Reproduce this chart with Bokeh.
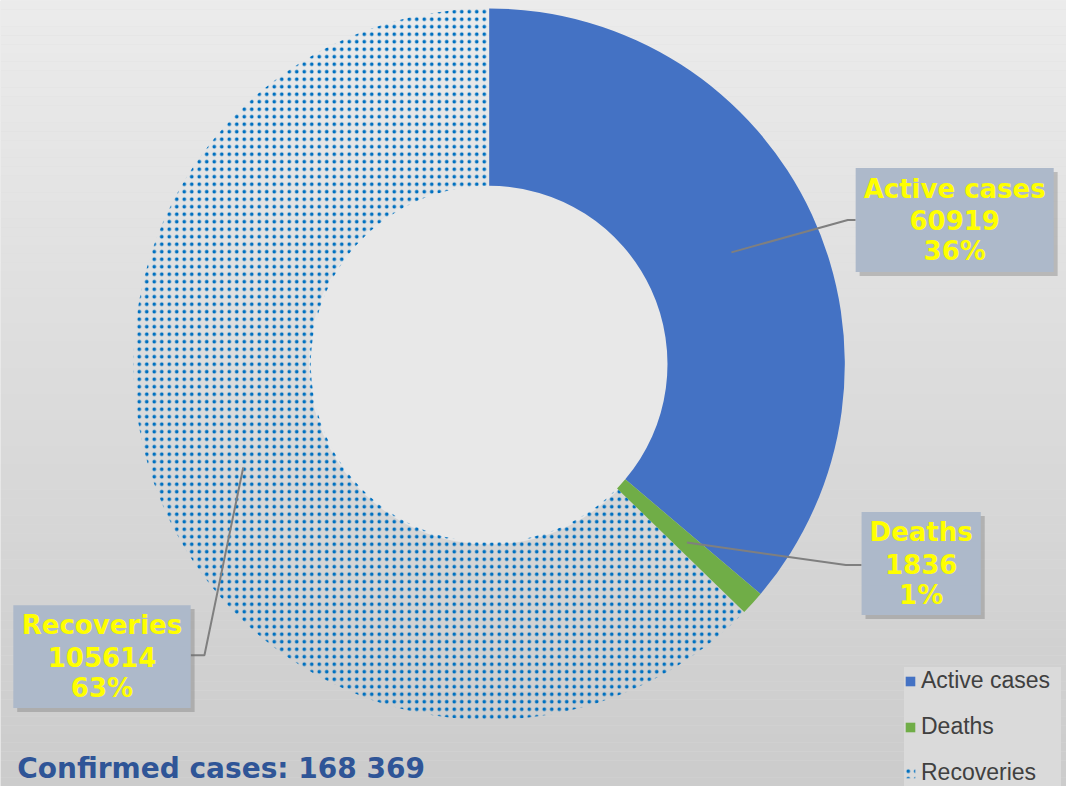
from bokeh.plotting import figure
from bokeh.models import ColumnDataSource, Legend, LegendItem
from bokeh.core.properties import value
from bokeh.embed import file_html
from bokeh.resources import INLINE
import numpy as np

# ---------------- data ----------------
categories = ["Active cases", "Deaths", "Recoveries"]
counts = [60919, 1836, 105614]
percent_labels = ["36%", "1%", "63%"]
total_label = "Confirmed cases: 168 369"

# ---------------- style / layout ----------------
slice_colors = ["#4472C4", "#70AD47", "#0070C0"]
slice_alpha = [1.0, 1.0, 0.0]
slice_hatch = [" ", " ", "."]

W, H = 1082, 802            # reference picture size (data units = reference px)
cx, cy = 496, H - 371       # donut centre
r_out, r_in = 361, 181

# label boxes (left, right, top, bottom in reference px) and leader elbows
box_left = [868, 874, 13]
box_right = [1069, 995, 193]
box_top = [171, 522, 617]
box_bottom = [277, 627, 722]
elbow_x = [860, 858, 207]
elbow_y = [224, 576, 668]
edge_x = [868, 874, 193]

# ---------------- computations ----------------
vals = np.array(counts, dtype=float)
frac = vals / vals.sum()
cum = np.concatenate([[0], np.cumsum(frac)])
start = np.pi / 2 - cum[:-1] * 2 * np.pi
end = np.pi / 2 - cum[1:] * 2 * np.pi
mid = (start + end) / 2
r_mid = (r_in + r_out) / 2
anchor_x = cx + r_mid * np.cos(mid)
anchor_y = cy + r_mid * np.sin(mid)

p = figure(width=W - 16, height=H - 16, x_range=(0, W), y_range=(0, H),
           output_backend="svg", toolbar_location=None, min_border=0)
p.axis.visible = False
p.grid.visible = False
p.outline_line_color = None
p.background_fill_color = "#dcdcdc"
p.border_fill_color = "#dcdcdc"

# background gradient (top light -> bottom darker)
n = 90
edges = np.linspace(0, H, n + 1)
tops = H - edges[:-1]
bots = H - edges[1:]
t = (edges[:-1] + edges[1:]) / 2 / H
g = (236 - 32 * t).astype(int)
band_colors = ["#%02x%02x%02x" % (v, v, v) for v in g]
p.quad(left=0, right=W, top=tops, bottom=bots, fill_color=band_colors, line_color=None)

# light hole
p.circle(x=[cx], y=[cy], radius=r_in + 2, fill_color="#e8e8e8", line_color=None)

src = ColumnDataSource(dict(cat=categories, start=start, end=end, color=slice_colors,
                            alpha=slice_alpha, hatch=slice_hatch))
wedges = p.annular_wedge(x=cx, y=cy, inner_radius=r_in, outer_radius=r_out,
                         start_angle="start", end_angle="end", direction="clock",
                         fill_color="color", fill_alpha="alpha", line_color=None,
                         hatch_pattern="hatch", hatch_color="#0070C0",
                         hatch_scale=7.5, hatch_weight=2, source=src)

# leader lines
xs = [[anchor_x[i], elbow_x[i], edge_x[i]] for i in range(3)]
ys = [[anchor_y[i], H - elbow_y[i], H - elbow_y[i]] for i in range(3)]
p.multi_line(xs=xs, ys=ys, line_color="#7f7f7f", line_width=2)

# label boxes with shadow
bl = np.array(box_left); br = np.array(box_right)
bt = H - np.array(box_top); bb = H - np.array(box_bottom)
p.quad(left=bl + 4, right=br + 4, top=bt - 4, bottom=bb - 4,
       fill_color="#6e6e6e", fill_alpha=0.35, line_color=None)
p.quad(left=bl, right=br, top=bt, bottom=bb, fill_color="#adb9ca", line_color=None)

tx, ty, tt = [], [], []
for i in range(3):
    xc = (bl[i] + br[i]) / 2
    yc = (bt[i] + bb[i]) / 2
    for k, s in enumerate([categories[i], f"{counts[i]}", percent_labels[i]]):
        tx.append(xc); ty.append(yc + 32 - 32 * k); tt.append(s)
p.text(x=tx, y=ty, text=tt, text_color="#FFFF00", text_font=value("DejaVu Sans"),
       text_font_style="bold", text_font_size="26px", text_align="center",
       text_baseline="middle")

# total
p.text(x=[17], y=[H - 784], text=[total_label], text_color="#2F5597",
       text_font=value("DejaVu Sans"), text_font_style="bold", text_font_size="28px",
       text_align="left", text_baseline="middle")

legend = Legend(items=[LegendItem(label=categories[i], renderers=[wedges], index=i) for i in range(3)],
                location=(904, 0), orientation="vertical",
                label_text_font="Liberation Sans", label_text_font_size="23px",
                label_text_color="#404040", glyph_width=12, glyph_height=12,
                label_height=20, label_width=140, spacing=19, padding=6, margin=0,
                label_standoff=5,
                background_fill_color="#dadada", background_fill_alpha=1.0,
                border_line_color=None)
p.add_layout(legend, "center")

open("out.html", "w").write(file_html(p, INLINE))
